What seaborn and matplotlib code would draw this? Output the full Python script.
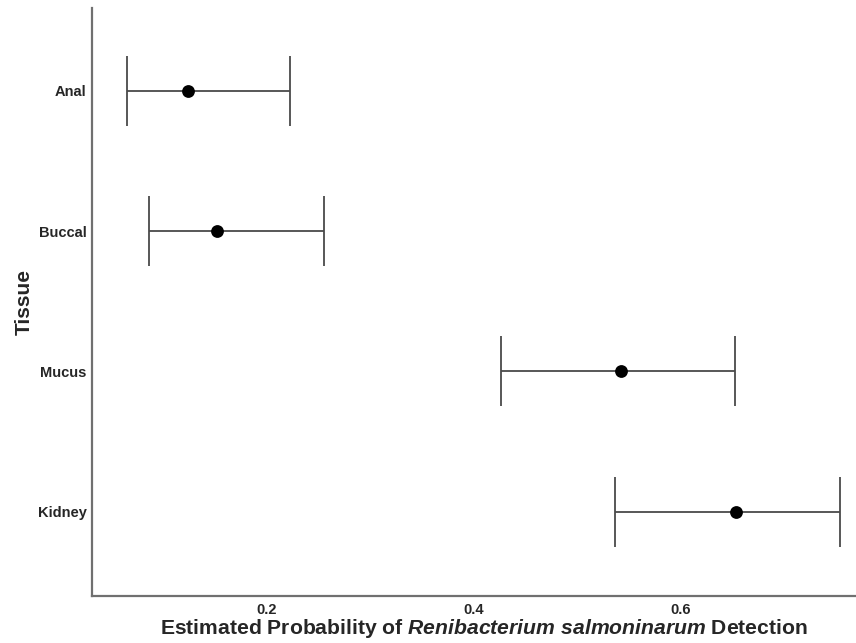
import matplotlib
matplotlib.use("Agg")
import matplotlib.pyplot as plt
import seaborn as sns
import pandas as pd

# Estimated detection probability with 95% interval per tissue
tissues = ["Anal", "Buccal", "Mucus", "Kidney"]
estimate = [0.124, 0.152, 0.542, 0.654]
lower = [0.065, 0.086, 0.426, 0.537]
upper = [0.222, 0.255, 0.653, 0.754]
xticks = [0.2, 0.4, 0.6]

df = pd.DataFrame({"Tissue": tissues, "est": estimate, "lo": lower, "hi": upper})

sns.set_theme(style="white")
plt.rcParams["font.family"] = ["Liberation Sans", "DejaVu Sans"]
plt.rcParams["mathtext.fontset"] = "custom"
plt.rcParams["mathtext.rm"] = "Liberation Sans:bold"
plt.rcParams["mathtext.it"] = "Liberation Sans:italic:bold"

fig = plt.figure(figsize=(8.56, 6.43), dpi=100)
ax = fig.add_axes([92 / 856, 47 / 643, (875 - 92) / 856, (596 - 8) / 643])

ypos = list(range(len(tissues)))
ax.errorbar(df["est"], ypos,
            xerr=[df["est"] - df["lo"], df["hi"] - df["est"]],
            fmt="none", ecolor="#4a4a4a", elinewidth=1.3,
            capsize=25, capthick=1.3, zorder=2)
sns.scatterplot(x=df["est"], y=ypos, ax=ax, color="black", s=85,
                edgecolor="black", linewidth=0, zorder=3, legend=False)

ax.set_yticks(ypos)
ax.set_yticklabels(tissues, fontsize=10.5, fontweight="bold")
ax.set_xticks(xticks)
ax.set_xticklabels([f"{v:.1f}" for v in xticks], fontsize=10.5, fontweight="bold")
ax.set_xlim(0.031, 0.788)
ax.set_ylim(3.6, -0.59)
ax.tick_params(axis="both", length=0)
ax.tick_params(axis="x", pad=5)
ax.tick_params(axis="y", pad=4)

ax.set_xlabel("Estimated Probability of $\\it{Renibacterium\\ salmoninarum}$ Detection",
              fontsize=15.2, fontweight="bold", labelpad=0)
ax.set_ylabel("Tissue", fontsize=15, fontweight="bold", labelpad=3)

sns.despine(ax=ax)
for side in ("left", "bottom"):
    ax.spines[side].set_color("#707070")
    ax.spines[side].set_linewidth(1.6)

fig.savefig("out.png", dpi=100)
